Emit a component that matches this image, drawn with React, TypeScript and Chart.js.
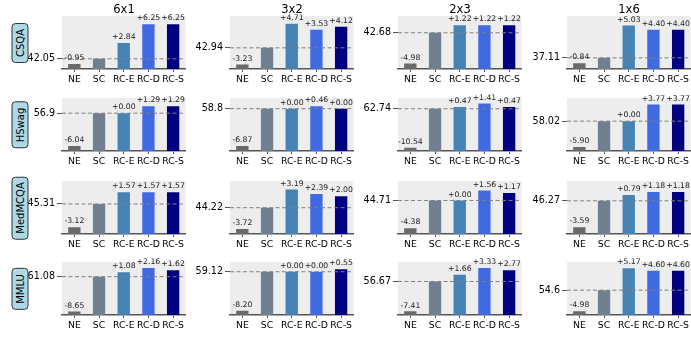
import React, { useEffect, useRef } from "react";
import { Chart, registerables } from "chart.js";
Chart.register(...registerables);

const categories = ["NE", "SC", "RC-E", "RC-D", "RC-S"];
const configs = ["6x1", "3x2", "2x3", "1x6"];
const benchmarks = ["CSQA", "HSwag", "MedMCQA", "MMLU"];

// SC baseline accuracy per config (6x1, 3x2, 2x3, 1x6)
const baseCSQA = [42.05, 42.94, 42.68, 37.11];
const baseHSwag = [56.9, 58.8, 62.74, 58.02];
const baseMedMCQA = [45.31, 44.22, 44.71, 46.27];
const baseMMLU = [61.08, 59.12, 56.67, 54.6];

// differences vs SC: [NE, RC-E, RC-D, RC-S] per config
const deltaCSQA = [
  [-0.95, 2.84, 6.25, 6.25],
  [-3.23, 4.71, 3.53, 4.12],
  [-4.98, 1.22, 1.22, 1.22],
  [-0.84, 5.03, 4.4, 4.4],
];
const deltaHSwag = [
  [-6.04, 0.0, 1.29, 1.29],
  [-6.87, 0.0, 0.46, 0.0],
  [-10.54, 0.47, 1.41, 0.47],
  [-5.9, 0.0, 3.77, 3.77],
];
const deltaMedMCQA = [
  [-3.12, 1.57, 1.57, 1.57],
  [-3.72, 3.19, 2.39, 2.0],
  [-4.38, 0.0, 1.56, 1.17],
  [-3.59, 0.79, 1.18, 1.18],
];
const deltaMMLU = [
  [-8.65, 1.08, 2.16, 1.62],
  [-8.2, 0.0, 0.0, 0.55],
  [-7.41, 1.66, 3.33, 2.77],
  [-4.98, 5.17, 4.6, 4.6],
];

const bases = [baseCSQA, baseHSwag, baseMedMCQA, baseMMLU];
const deltas = [deltaCSQA, deltaHSwag, deltaMedMCQA, deltaMMLU];

const barColors = ["#696969", "#708090", "#4682B4", "#4169E1", "#000080"];

// layout (pixels)
const colLeft = [62, 230, 398, 567];
const plotW = 124;
const rowTop = [16, 98, 181, 262];
const plotH = 53;
const L = 50;
const T = 14;
const B = 22;
const R = 0;
const FONT = "DejaVu Sans";

const fmt = (d: number) => (d >= 0 ? "+" : "") + d.toFixed(2);

const panelPlugin = {
  id: "panel",
  beforeDraw(chart: any) {
    const { ctx, chartArea: a } = chart;
    ctx.save();
    ctx.fillStyle = "#ededed";
    ctx.fillRect(a.left, a.top, a.right - a.left, a.bottom - a.top);
    ctx.restore();
  },
  afterDatasetsDraw(chart: any, _args: any, opts: any) {
    const { ctx, chartArea: a } = chart;
    const y = chart.scales.y.getPixelForValue(opts.base);
    ctx.save();
    ctx.strokeStyle = "#808080";
    ctx.lineWidth = 1;
    ctx.setLineDash([4, 2.5]);
    ctx.beginPath();
    ctx.moveTo(a.left, y);
    ctx.lineTo(a.right, y);
    ctx.stroke();
    ctx.setLineDash([]);
    const meta = chart.getDatasetMeta(0);
    ctx.fillStyle = "#222";
    ctx.font = `7.7px "${FONT}"`;
    ctx.textAlign = "center";
    ctx.textBaseline = "bottom";
    opts.labels.forEach((lab: string, i: number) => {
      if (!lab) return;
      const el = meta.data[i];
      ctx.fillText(lab, el.x, el.y - 2);
    });
    ctx.restore();
  },
};

function Panel({ r, c }: { r: number; c: number }) {
  const ref = useRef<HTMLCanvasElement>(null);
  const base = bases[r][c];
  const d = deltas[r][c];
  useEffect(() => {
    const values = [base + d[0], base, base + d[1], base + d[2], base + d[3]];
    const labels = [fmt(d[0]), "", fmt(d[1]), fmt(d[2]), fmt(d[3])];
    const ymin = Math.min(...values) - 0.9;
    const ymax = Math.max(...values) + 1.5;
    const chart = new Chart(ref.current as HTMLCanvasElement, {
      type: "bar",
      data: {
        labels: categories,
        datasets: [
          {
            data: values,
            backgroundColor: barColors,
            barPercentage: 0.5,
            categoryPercentage: 1.0,
          },
        ],
      },
      options: {
        animation: false,
        responsive: false,
        devicePixelRatio: 1,
        layout: { padding: { top: T, right: R, left: 0, bottom: 0 } },
        plugins: {
          legend: { display: false },
          tooltip: { enabled: false },
          panel: { base, labels },
        } as any,
        scales: {
          x: {
            offset: true,
            grid: {
              display: true,
              drawOnChartArea: false,
              drawTicks: true,
              tickLength: 3,
              color: "#555",
              offset: false,
            },
            border: { display: true, color: "#555", width: 1.5 },
            ticks: {
              autoSkip: false,
              maxRotation: 0,
              minRotation: 0,
              padding: 2,
              color: "#000",
              font: { family: FONT, size: 9.3 },
            },
            afterFit: (s: any) => {
              s.height = B;
            },
          },
          y: {
            min: ymin,
            max: ymax,
            beginAtZero: false,
            grid: {
              display: true,
              drawOnChartArea: false,
              drawTicks: true,
              tickLength: 5,
              color: "#555",
            },
            border: { display: false },
            afterBuildTicks: (s: any) => {
              s.ticks = [{ value: base }];
            },
            ticks: {
              padding: 2,
              color: "#000",
              font: { family: FONT, size: 9.6 },
              callback: () => String(base),
            },
            afterFit: (s: any) => {
              s.width = L;
            },
          },
        },
      },
      plugins: [panelPlugin],
    } as any);
    return () => chart.destroy();
  }, []);
  const w = L + plotW + R;
  const h = T + plotH + B;
  return (
    <canvas
      ref={ref}
      width={w}
      height={h}
      style={{
        position: "absolute",
        left: colLeft[c] - L,
        top: rowTop[r] - T,
        width: w,
        height: h,
      }}
    />
  );
}

export default function App() {
  const panels: any[] = [];
  for (let r = 0; r < 4; r++)
    for (let c = 0; c < 4; c++) panels.push(<Panel key={`${r}-${c}`} r={r} c={c} />);
  return (
    <div
      style={{
        position: "absolute",
        left: 0,
        top: 0,
        width: 691,
        height: 339,
        overflow: "hidden",
        background: "#fff",
        fontFamily: FONT,
      }}
    >
      {panels}
      {configs.map((t, c) => (
        <div
          key={t}
          style={{
            position: "absolute",
            left: colLeft[c] + plotW / 2,
            top: 9,
            transform: "translate(-50%, -50%)",
            fontSize: 11.5,
            color: "#000",
            whiteSpace: "nowrap",
          }}
        >
          {t}
        </div>
      ))}
      {benchmarks.map((b, r) => (
        <div
          key={b}
          style={{
            position: "absolute",
            left: 19.5,
            top: rowTop[r] + plotH / 2,
            transform: "translate(-50%, -50%) rotate(-90deg)",
            fontSize: 10,
            lineHeight: "15px",
            padding: "0px 5px",
            background: "#ADD8E6",
            border: "1px solid #333",
            borderRadius: 4,
            color: "#000",
            whiteSpace: "nowrap",
            zIndex: 2,
          }}
        >
          {b}
        </div>
      ))}
    </div>
  );
}
